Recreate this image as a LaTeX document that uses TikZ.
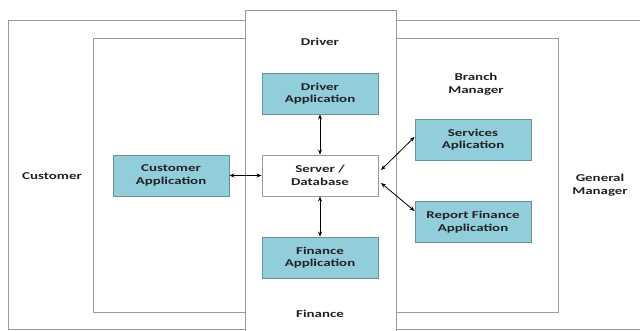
\documentclass[tikz,border=0pt]{standalone}
\usepackage{fontspec}
\setmainfont[FakeStretch=1.42]{Carlito}
\usetikzlibrary{arrows.meta}
\definecolor{framegray}{HTML}{9A9A9A}
\definecolor{appfill}{HTML}{92CDDC}
\definecolor{appedge}{HTML}{6A8F9C}
\definecolor{txt}{HTML}{222222}
\begin{document}
\begin{tikzpicture}[x=1pt,y=-1pt,
  frame/.style={draw=framegray,line width=1pt},
  appbox/.style={draw=appedge,fill=appfill,line width=0.9pt,minimum width=116pt,minimum height=41pt,
    inner sep=0pt,align=center,font=\fontsize{10.5}{12.5}\selectfont\bfseries,text=txt},
  srvbox/.style={appbox,draw=framegray,fill=white},
  role/.style={align=center,font=\fontsize{10.5}{12.5}\selectfont\bfseries,text=txt},
  link/.style={line width=0.8pt,{Stealth[length=5pt,width=4pt]}-{Stealth[length=5pt,width=4pt]}}]
\useasboundingbox (0,0) rectangle (640,331);
\fill[white] (0,0) rectangle (640,331);
% General manager frame (open on the right)
\draw[frame] (641,21) -- (8,21) -- (8,329) -- (641,329);
% Branch manager frame
\draw[frame] (93,39) rectangle (558,312);
% Driver / Finance column
\fill[white] (245,11) rectangle (396,332);
\draw[frame] (245,332) -- (245,11) -- (396,11) -- (396,332);
% Role labels
\node[role] (driver) at (320,42) {Driver};
\node[role] (finance) at (320,314) {Finance};
\node[role] (customer) at (52,176) {Customer};
\node[role] (branch) at (476,84) {Branch\\Manager};
\node[role] (general) at (600,185) {General\\Manager};
% Applications
\node[appbox] (drvapp) at (320,93.5) {Driver\\Application};
\node[srvbox] (server) at (320,175.5) {Server /\\Database};
\node[appbox] (finapp) at (320,257.5) {Finance\\Application};
\node[appbox] (custapp) at (171,175.5) {Customer\\Application};
\node[appbox] (servapp) at (473,139.5) {Services\\Aplication};
\node[appbox] (repapp) at (473,222) {Report Finance\\Application};
% Links
\draw[link] (custapp.east) -- (server.west);
\draw[link] (drvapp.south) -- (server.north);
\draw[link] (server.south) -- (finapp.north);
\coordinate (s1) at (381,170);
\coordinate (s2) at (381,183);
\draw[link] (s1) -- (servapp.west|-0,137);
\draw[link] (s2) -- (repapp.west|-0,211);
\end{tikzpicture}
\end{document}
